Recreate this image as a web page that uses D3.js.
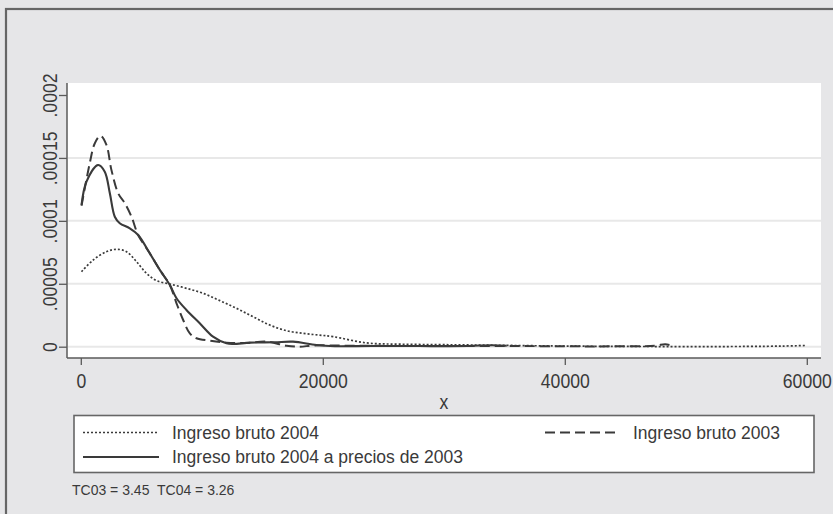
<!DOCTYPE html>
<html>
<head>
<meta charset="utf-8">
<script src="https://cdn.jsdelivr.net/npm/d3@7"></script>
<style>
  html, body { margin: 0; padding: 0; background: #e6e6e8; }
  svg { display: block; font-family: "Liberation Sans", Arial, sans-serif; }
</style>
</head>
<body>
<svg id="chart" width="833" height="514"></svg>
<script>
// Kernel density estimates of gross income (ingreso bruto)
const inc2004X = [60, 1020, 2120, 2950, 3780, 4600, 5430, 6260, 7360, 8730, 10110, 11490, 12870, 14240, 15620, 17000, 18370, 19610, 20850, 23610, 26360, 30000, 34630, 40000, 45620, 50000, 55000, 58000, 60000];
const inc2004Y = [0.0000596, 0.0000689, 0.0000755, 0.0000774, 0.0000755, 0.0000676, 0.0000583, 0.0000525, 0.0000498, 0.0000464, 0.0000424, 0.0000366, 0.0000305, 0.0000238, 0.0000172, 0.0000127, 0.0000106, 0.0000093, 0.0000080, 0.0000030, 0.0000020, 0.0000016, 0.0000011, 0.0000005, 0.0000002, 0.0000001, 0.0000002, 0.0000005, 0.0000010];

const inc2003X = [60, 740, 1160, 1630, 2120, 2530, 3090, 3640, 4190, 4740, 5700, 6530, 7360, 7910, 8460, 9010, 9560, 10660, 12040, 13700, 15350, 17000, 18100, 19200, 22000, 26000, 30000, 35000, 40000, 44000, 47500, 48300, 49000];
const inc2003Y = [0.0001120, 0.0001458, 0.0001617, 0.0001675, 0.0001603, 0.0001405, 0.0001219, 0.0001140, 0.0001033, 0.0000888, 0.0000742, 0.0000610, 0.0000490, 0.0000345, 0.0000212, 0.0000106, 0.0000067, 0.0000048, 0.0000032, 0.0000030, 0.0000040, 0.0000008, 0.0000000, 0.0000010, 0.0000008, 0.0000006, 0.0000005, 0.0000006, 0.0000003, 0.0000003, 0.0000008, 0.0000020, 0.0000004];

const inc2004realX = [60, 470, 1430, 1980, 2400, 2810, 3220, 4050, 4740, 5700, 6530, 7360, 7910, 8730, 9830, 10930, 12040, 12600, 14000, 16000, 17540, 19480, 21000, 24000, 28000, 32000, 34000, 35200];
const inc2004realY = [0.0001126, 0.0001312, 0.0001444, 0.0001391, 0.0001219, 0.0001033, 0.0000981, 0.0000941, 0.0000888, 0.0000742, 0.0000610, 0.0000490, 0.0000385, 0.0000292, 0.0000186, 0.0000080, 0.0000027, 0.0000022, 0.0000032, 0.0000035, 0.0000040, 0.0000013, 0.0000004, 0.0000006, 0.0000005, 0.0000006, 0.0000012, 0.0000008];

const xTicks = [0, 20000, 40000, 60000];
const yTicks = [0, 0.00005, 0.0001, 0.00015, 0.0002];
const yTickLabels = ["0", ".00005", ".0001", ".00015", ".0002"];
const gridTicks = [0, 0.00005, 0.0001, 0.00015];

const legendLabels = ["Ingreso bruto 2004", "Ingreso bruto 2003", "Ingreso bruto 2004 a precios de 2003"];
const noteText = "TC03 = 3.45  TC04 = 3.26";
const xTitle = "x";

const svg = d3.select("#chart");
const ink = "#3a3a3a";
const axisInk = "#5a5a5a";
const textInk = "#3a3a3a";

// outer graph frame
svg.append("rect").attr("x", 6).attr("y", 9).attr("width", 840).attr("height", 520)
  .attr("fill", "#e6e6e8").attr("stroke", "#666").attr("stroke-width", 2.2);

const plot = { left: 67, right: 821, top: 83, bottom: 358 };

const x = d3.scaleLinear().domain([0, 60000]).range([80.8, 806.8]);
const y = d3.scaleLinear().domain([0, 0.0002]).range([346.7, 95]);

// plot region
svg.append("rect").attr("x", plot.left).attr("y", plot.top)
  .attr("width", plot.right - plot.left).attr("height", plot.bottom - plot.top)
  .attr("fill", "#ffffff");

// horizontal grid lines
svg.append("g").selectAll("line").data(gridTicks).join("line")
  .attr("x1", plot.left + 1).attr("x2", plot.right)
  .attr("y1", d => y(d)).attr("y2", d => y(d))
  .attr("stroke", "#e8e8e8").attr("stroke-width", 2);

// tick labels use a condensed, tall face
const tickFont = 20.5;
const condense = 0.86;

// y axis
const yAxis = d3.axisLeft(y).tickValues(yTicks)
  .tickFormat((d, i) => yTickLabels[i]).tickSize(8).tickPadding(4);
const gy = svg.append("g").attr("transform", `translate(${plot.left},0)`).call(yAxis);
gy.select(".domain").attr("d", `M0,${plot.top}V${plot.bottom}`).attr("stroke", axisInk).attr("stroke-width", 1.5);
gy.selectAll(".tick line").attr("stroke", axisInk).attr("stroke-width", 1.3);
gy.selectAll(".tick text")
  .attr("font-size", tickFont).attr("fill", textInk)
  .attr("text-anchor", "middle")
  .attr("x", 0).attr("y", 0).attr("dy", "0.36em")
  .attr("transform", `translate(-17.5,0) rotate(-90) scale(${condense},1)`);

// x axis
const xAxis = d3.axisBottom(x).tickValues(xTicks).tickFormat(d3.format("d")).tickSize(7).tickPadding(8);
const gx = svg.append("g").attr("transform", `translate(0,${plot.bottom})`).call(xAxis);
gx.select(".domain").attr("d", `M${plot.left},0H${plot.right}`).attr("stroke", axisInk).attr("stroke-width", 1.5);
gx.selectAll(".tick line").attr("stroke", axisInk).attr("stroke-width", 1.3);
gx.selectAll(".tick text").attr("font-size", tickFont).attr("fill", textInk)
  .attr("transform", `scale(${condense},1)`);

svg.append("text").attr("x", (plot.left + plot.right) / 2).attr("y", 402)
  .attr("text-anchor", "middle").attr("dy", "0.36em")
  .attr("font-size", tickFont).attr("fill", textInk)
  .attr("transform", `translate(${(plot.left + plot.right) / 2 * (1 - condense)},0) scale(${condense},1)`)
  .text(xTitle);

// density curves
const line = d3.line().x(d => x(d[0])).y(d => y(d[1])).curve(d3.curveCatmullRom.alpha(0.5));
const series = [
  { xs: inc2004X, ys: inc2004Y, dash: "2,2", width: 1.7 },
  { xs: inc2003X, ys: inc2003Y, dash: "10,5", width: 2 },
  { xs: inc2004realX, ys: inc2004realY, dash: null, width: 2.1 }
];
svg.append("clipPath").attr("id", "plotclip").append("rect")
  .attr("x", plot.left).attr("y", plot.top).attr("width", plot.right - plot.left).attr("height", plot.bottom - plot.top);
svg.append("g").attr("clip-path", "url(#plotclip)").selectAll("path").data(series).join("path")
  .attr("d", s => line(s.xs.map((v, i) => [v, s.ys[i]])))
  .attr("fill", "none").attr("stroke", ink)
  .attr("stroke-width", s => s.width)
  .attr("stroke-dasharray", s => s.dash)
  .attr("stroke-linejoin", "round");

// legend
svg.append("rect").attr("x", 74).attr("y", 415.5).attr("width", 740).attr("height", 57)
  .attr("fill", "#ffffff").attr("stroke", "#666").attr("stroke-width", 1.6);

const legendItems = [
  { label: legendLabels[0], x1: 83, x2: 159, tx: 172, cy: 432.5, dash: "2,2", width: 1.7 },
  { label: legendLabels[1], x1: 545, x2: 620, tx: 633, cy: 432.5, dash: "10,5", width: 2 },
  { label: legendLabels[2], x1: 83, x2: 159, tx: 172, cy: 457, dash: null, width: 2.1 }
];
const lg = svg.append("g").selectAll("g").data(legendItems).join("g");
lg.append("line").attr("x1", d => d.x1).attr("x2", d => d.x2)
  .attr("y1", d => d.cy).attr("y2", d => d.cy)
  .attr("stroke", ink).attr("stroke-width", d => d.width).attr("stroke-dasharray", d => d.dash);
lg.append("text").attr("x", d => d.tx).attr("y", d => d.cy).attr("dy", "0.36em")
  .attr("font-size", 17.5).attr("fill", textInk).text(d => d.label);

// note
svg.append("text").attr("x", 72).attr("y", 490).attr("dy", "0.36em")
  .attr("font-size", 14).attr("fill", textInk)
  .style("white-space", "pre").text(noteText);
</script>
</body>
</html>
